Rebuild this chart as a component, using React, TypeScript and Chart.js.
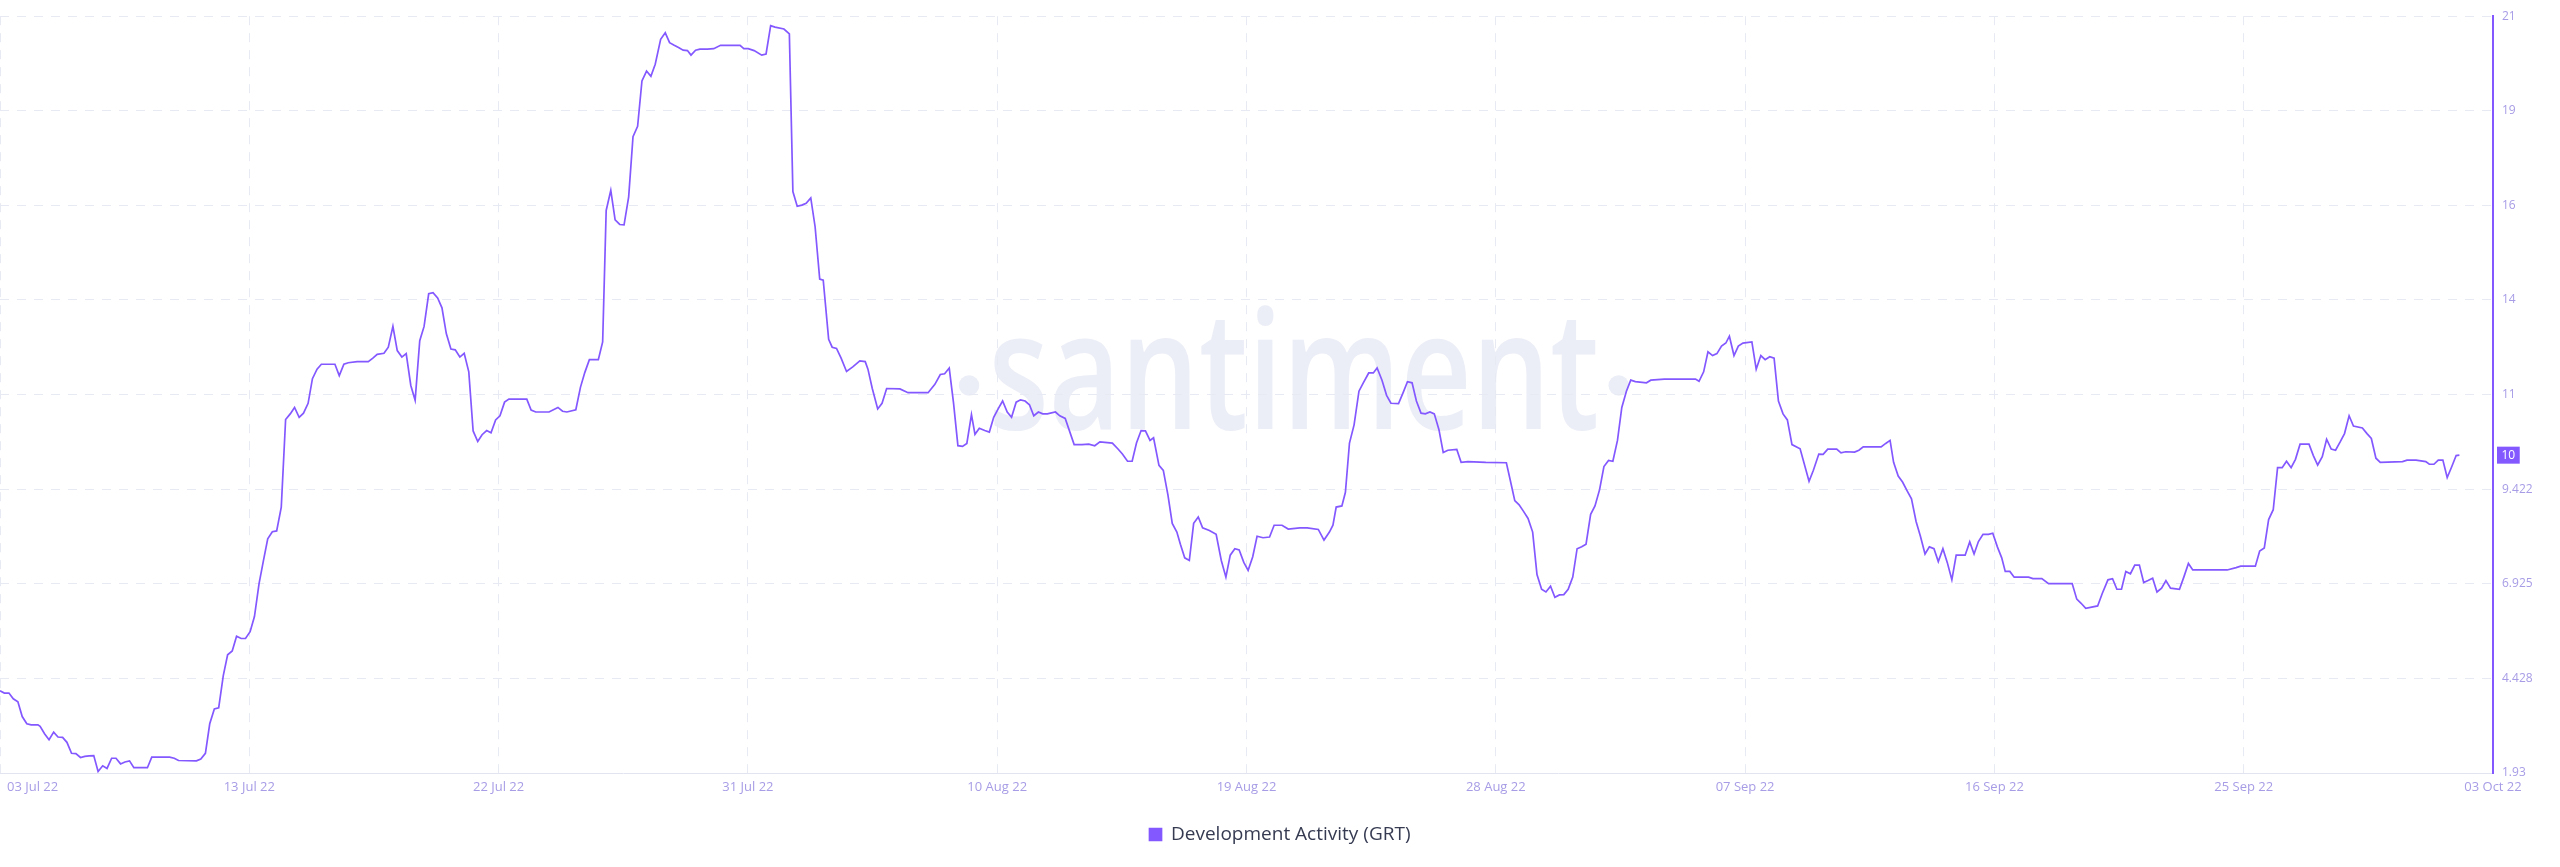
import React, { useEffect, useRef } from "react";
import { Chart, registerables } from "chart.js";

Chart.register(...registerables);

// ---------- data ----------
const seriesName = "Development Activity (GRT)";
const xTickLabels = [
  "03 Jul 22", "13 Jul 22", "22 Jul 22", "31 Jul 22", "10 Aug 22", "19 Aug 22",
  "28 Aug 22", "07 Sep 22", "16 Sep 22", "25 Sep 22", "03 Oct 22",
];
// days since 03 Jul 22 covered by the time axis (03 Jul 22 -> 03 Oct 22)
const xRangeDays = [0, 92];
const yTickLabels = ["1.93", "4.428", "6.925", "9.422", "11", "14", "16", "19", "21"];
const yRange = [1.93, 21.908];
const lastValueLabel = "10";
const watermarkText = "santiment";

// time of each observation, in days since 03 Jul 22 00:00
const dayOffsets = [
  0.0, 0.16, 0.33, 0.49, 0.66, 0.82, 0.99, 1.15, 1.4, 1.48,
  1.65, 1.81, 1.98, 2.14, 2.31, 2.47, 2.64, 2.8, 2.97, 3.13,
  3.29, 3.46, 3.62, 3.79, 3.95, 4.12, 4.28, 4.45, 4.61, 4.78,
  4.94, 5.44, 5.6, 6.26, 6.43, 6.59, 7.25, 7.41, 7.58, 7.74,
  7.91, 8.07, 8.24, 8.4, 8.57, 8.73, 8.9, 9.06, 9.23, 9.39,
  9.56, 9.72, 9.88, 10.05, 10.21, 10.38, 10.54, 10.71, 10.87, 11.04,
  11.2, 11.37, 11.53, 11.7, 11.86, 12.36, 12.52, 12.69, 12.85, 13.18,
  13.59, 13.76, 13.92, 14.17, 14.33, 14.5, 14.66, 14.83, 14.99, 15.16,
  15.32, 15.49, 15.65, 15.82, 15.98, 16.15, 16.31, 16.47, 16.64, 16.8,
  16.97, 17.13, 17.3, 17.46, 17.63, 17.79, 17.96, 18.12, 18.29, 18.45,
  18.62, 18.78, 19.44, 19.6, 19.77, 20.26, 20.59, 20.76, 20.92, 21.25,
  21.42, 21.58, 21.75, 22.08, 22.24, 22.37, 22.54, 22.7, 22.87, 23.03,
  23.2, 23.36, 23.53, 23.69, 23.86, 24.02, 24.18, 24.38, 24.55, 24.71,
  24.88, 25.04, 25.21, 25.37, 25.5, 25.67, 25.83,
  26.1, 26.34, 26.59, 26.92, 27.31, 27.45, 27.61, 27.83, 28.11, 28.27,
  28.44, 28.6, 28.93, 29.13, 29.26, 29.42, 29.59, 29.75, 29.92, 30.08,
  30.25, 30.38, 30.58, 30.71, 30.87, 31.04, 31.24, 31.47, 31.73, 31.93,
  32.03, 32.19, 32.39, 32.55, 32.72, 33.21, 33.51, 34.25, 34.5, 34.7,
  34.86, 35.03, 35.19, 35.35, 35.52, 35.68, 35.85, 35.98, 36.14, 36.34,
  36.51, 36.67, 36.84, 37.0, 37.17, 37.33, 37.5, 37.66, 37.83, 37.99,
  38.15, 38.32, 38.48, 38.65, 38.95, 39.11, 39.31, 39.64, 39.93, 40.18,
  40.4, 40.59, 41.05, 41.25, 41.42, 41.61, 41.78, 41.94, 42.11, 42.27,
  42.44, 42.57, 42.77, 42.93, 43.1, 43.26, 43.43, 43.56, 43.72, 43.89,
  44.05, 44.22, 44.38, 44.63, 44.88, 45.07, 45.24, 45.4, 45.57, 45.73,
  45.9, 46.06, 46.23, 46.39, 46.61, 46.85, 47.02, 47.31, 47.54, 47.97,
  48.24, 48.65, 48.86, 49.06, 49.19, 49.31, 49.52, 49.65, 49.8, 49.97,
  50.15, 50.31, 50.51, 50.68, 50.82, 51.0, 51.17, 51.33, 51.61, 51.78,
  51.94, 52.11, 52.27, 52.44, 52.6, 52.77, 52.93, 53.1, 53.26, 53.43,
  53.76, 53.92, 54.17, 54.83, 55.59, 55.73, 55.9, 56.06, 56.23, 56.39,
  56.56, 56.72, 56.89, 57.05, 57.22, 57.38, 57.55, 57.71, 57.87, 58.04,
  58.2, 58.37, 58.53, 58.7, 58.86, 59.03, 59.19, 59.36, 59.52, 59.69,
  59.85, 60.02, 60.18, 60.35, 60.76, 60.92, 61.42, 62.57, 62.7, 62.87,
  63.03, 63.2, 63.36, 63.53, 63.69, 63.82, 63.99, 64.15, 64.32, 64.65,
  64.81, 64.98, 65.14, 65.31, 65.47, 65.63, 65.8, 65.96, 66.13, 66.43,
  66.76, 66.92, 67.12, 67.28, 67.45, 67.78, 67.94, 68.11, 68.44,
  68.6, 68.76, 69.42, 69.59, 69.75, 69.88, 70.05, 70.21, 70.38, 70.54,
  70.71, 70.87, 71.04, 71.2, 71.37, 71.53, 71.7, 71.86, 72.03, 72.19,
  72.52, 72.69, 72.85, 73.01, 73.18, 73.38, 73.54, 73.71, 73.87, 74.0,
  74.17, 74.33, 74.86, 75.02, 75.35, 75.6, 76.47, 76.64, 76.8, 76.97,
  77.41, 77.58, 77.79, 77.96, 78.12, 78.29, 78.45, 78.62, 78.78, 78.95,
  79.11, 79.27, 79.44, 79.6, 79.77, 79.93, 80.1, 80.43, 80.59, 80.76,
  80.92, 82.19, 82.52, 82.69, 83.23, 83.39, 83.56, 83.72, 83.89, 84.05,
  84.22, 84.38, 84.55, 84.71, 84.88, 85.21, 85.37, 85.53, 85.7, 85.86,
  86.03, 86.19, 86.36, 86.52, 86.69, 86.85, 87.18, 87.35, 87.51, 87.68,
  87.84, 88.66, 88.83, 89.16, 89.52, 89.65, 89.82, 89.98, 90.15, 90.31,
  90.48, 90.64, 90.76,
];

const devActivity = [
  4.1, 4.04, 4.04, 3.89, 3.81, 3.42, 3.23, 3.2, 3.2, 3.16,
  2.96, 2.81, 3.01, 2.88, 2.87, 2.74, 2.45, 2.44, 2.34, 2.37,
  2.38, 2.39, 1.97, 2.12, 2.05, 2.32, 2.32, 2.17, 2.22, 2.25,
  2.07, 2.07, 2.35, 2.35, 2.32, 2.26, 2.25, 2.3, 2.45, 3.23,
  3.62, 3.65, 4.5, 5.05, 5.15, 5.54, 5.48, 5.48, 5.66, 6.06,
  6.93, 7.53, 8.11, 8.3, 8.32, 8.95, 11.26, 11.41, 11.58, 11.32,
  11.43, 11.69, 12.34, 12.59, 12.72, 12.72, 12.42, 12.72, 12.76, 12.79,
  12.79, 12.88, 12.98, 13.01, 13.17, 13.72, 13.08, 12.91, 13.0, 12.16,
  11.77, 13.34, 13.72, 14.58, 14.61, 14.47, 14.21, 13.53, 13.12, 13.1,
  12.91, 13.01, 12.52, 10.96, 10.68, 10.86, 10.97, 10.91, 11.25, 11.36,
  11.72, 11.8, 11.8, 11.51, 11.46, 11.46, 11.58, 11.48, 11.46, 11.52,
  12.11, 12.5, 12.84, 12.84, 13.31, 16.78, 17.31, 16.53, 16.41, 16.4,
  17.14, 18.73, 19.0, 20.2, 20.46, 20.32, 20.64, 21.3, 21.47, 21.21,
  21.14, 21.08, 21.01, 21.0, 20.88, 21.01, 21.04,
  21.04, 21.05, 21.14, 21.14, 21.14, 21.05, 21.05, 21.0, 20.88, 20.91,
  21.66, 21.62, 21.57, 21.44, 17.28, 16.89, 16.92, 16.97, 17.11, 16.35,
  14.97, 14.94, 13.38, 13.17, 13.14, 12.88, 12.53, 12.65, 12.81, 12.79,
  12.59, 12.08, 11.54, 11.69, 12.08, 12.07, 11.97, 11.97, 12.19, 12.45,
  12.47, 12.62, 11.69, 10.57, 10.55, 10.63, 11.39, 10.87, 11.03, 10.97,
  10.93, 11.32, 11.55, 11.75, 11.46, 11.32, 11.72, 11.78, 11.75, 11.65,
  11.36, 11.46, 11.41, 11.41, 11.46, 11.36, 11.29, 10.6, 10.6, 10.61,
  10.57, 10.67, 10.64, 10.49, 10.35, 10.16, 10.16, 10.64, 10.97, 10.96,
  10.71, 10.78, 10.05, 9.92, 9.27, 8.52, 8.29, 7.97, 7.61, 7.54,
  8.52, 8.69, 8.4, 8.33, 8.23, 7.54, 7.1, 7.68, 7.85, 7.82,
  7.49, 7.28, 7.64, 8.18, 8.14, 8.16, 8.47, 8.47, 8.37, 8.4,
  8.4, 8.36, 8.08, 8.29, 8.47, 8.95, 8.98, 9.34, 10.64, 11.12,
  12.01, 12.23, 12.49, 12.49, 12.62, 12.3, 11.9, 11.69, 11.68, 11.97,
  12.26, 12.23, 11.75, 11.43, 11.41, 11.46, 11.41, 11.0, 10.39, 10.45,
  10.47, 10.13, 10.15, 10.13, 10.12, 9.67, 9.12, 9.01, 8.83, 8.65,
  8.29, 7.17, 6.78, 6.71, 6.86, 6.57, 6.63, 6.64, 6.78, 7.1,
  7.85, 7.9, 7.97, 8.76, 8.98, 9.41, 10.02, 10.18, 10.16, 10.71,
  11.58, 12.01, 12.3, 12.26, 12.23, 12.3, 12.33, 12.33, 12.27, 12.52,
  13.05, 12.95, 13.0, 13.2, 13.28, 13.46, 12.95, 13.2, 13.28, 13.31,
  12.59, 12.95, 12.84, 12.92, 12.88, 11.75, 11.41, 11.25, 10.6, 10.49,
  9.63, 9.92, 10.35, 10.34, 10.48, 10.48, 10.38, 10.41, 10.4,
  10.45, 10.54, 10.54, 10.63, 10.71, 10.13, 9.77, 9.61, 9.38, 9.17,
  8.57, 8.18, 7.71, 7.9, 7.85, 7.51, 7.85, 7.49, 7.03, 7.68,
  7.68, 8.03, 7.71, 8.04, 8.23, 8.23, 8.26, 7.9, 7.61, 7.25,
  7.25, 7.1, 7.1, 7.06, 7.06, 6.93, 6.93, 6.52, 6.41, 6.28,
  6.34, 6.67, 7.03, 7.06, 6.78, 6.78, 7.25, 7.19, 7.42, 7.42,
  6.96, 7.01, 7.07, 6.71, 6.81, 7.01, 6.81, 6.78, 7.1, 7.46,
  7.29, 7.29, 7.35, 7.39, 7.39, 7.79, 7.87, 8.62, 8.88, 9.99,
  9.99, 10.16, 9.99, 10.21, 10.61, 10.61, 10.31, 10.06, 10.28, 10.74,
  10.48, 10.45, 10.67, 10.89, 11.36, 11.09, 11.04, 10.89, 10.76, 10.24,
  10.13, 10.15, 10.19, 10.19, 10.15, 10.08, 10.08, 10.19, 10.19, 9.73,
  10.02, 10.31, 10.32,
];

// ---------- styles ----------
const LINE_COLOR = "#8358ff";
const TICK_COLOR = "#a79de6";
const GRID_COLOR = "#e7e9f3";
const AXIS_BASE_COLOR = "#e2e4ef";
const LEGEND_TEXT = "#363b52";
const WATERMARK_COLOR = "#eceef7";
const FONT = "'Open Sans', sans-serif";

const watermarkPlugin = {
  id: "watermark",
  beforeDraw(chart: any) {
    const { ctx, chartArea: a } = chart;
    const w = a.right - a.left;
    const h = a.bottom - a.top;
    const cx = a.left + w * 0.519;
    const base = a.top + h * 0.546;
    const xh = h * 0.116;
    const fontSize = xh / 0.535;
    const target = w * 0.245;
    ctx.save();
    ctx.font = `600 ${fontSize}px ${FONT}`;
    ctx.fillStyle = WATERMARK_COLOR;
    const tw = ctx.measureText(watermarkText).width;
    ctx.textAlign = "center";
    ctx.textBaseline = "alphabetic";
    ctx.translate(cx, base);
    ctx.scale(target / tw, 1);
    ctx.fillText(watermarkText, 0, 0);
    ctx.restore();
    const r = h * 0.0135;
    ctx.save();
    ctx.fillStyle = WATERMARK_COLOR;
    ctx.beginPath();
    ctx.arc(cx - target / 2 - r * 1.9, base - xh / 2, r, 0, Math.PI * 2);
    ctx.fill();
    ctx.beginPath();
    ctx.arc(cx + target / 2 + r * 1.9, base - xh / 2, r, 0, Math.PI * 2);
    ctx.fill();
    ctx.restore();
  },
};

const overlayPlugin = {
  id: "overlayLabels",
  afterDraw(chart: any) {
    const { ctx, chartArea: a, scales } = chart;
    const xs = scales.x;
    const ys = scales.y;
    // x tick labels
    ctx.save();
    ctx.font = `13px ${FONT}`;
    ctx.fillStyle = TICK_COLOR;
    ctx.textBaseline = "middle";
    ctx.textAlign = "center";
    const n = xTickLabels.length;
    xTickLabels.forEach((lab, i) => {
      const v = xRangeDays[0] + ((xRangeDays[1] - xRangeDays[0]) * i) / (n - 1);
      const tw = ctx.measureText(lab).width;
      const px = Math.max(xs.getPixelForValue(v), a.left + 7 + tw / 2);
      ctx.fillText(lab, px, a.bottom + 14);
    });
    ctx.restore();
    // last value marker
    const last = devActivity[devActivity.length - 1];
    const py = ys.getPixelForValue(last);
    ctx.save();
    ctx.font = `12px ${FONT}`;
    const bw = ctx.measureText(lastValueLabel).width + 9;
    const bh = 17;
    const bx = a.right + 4;
    ctx.fillStyle = LINE_COLOR;
    ctx.fillRect(bx, py - bh / 2, bw, bh);
    ctx.fillStyle = "#ffffff";
    ctx.textAlign = "center";
    ctx.textBaseline = "middle";
    ctx.fillText(lastValueLabel, bx + bw / 2, py + 0.5);
    ctx.restore();
  },
};

export default function App() {
  const canvasRef = useRef<HTMLCanvasElement | null>(null);

  useEffect(() => {
    document.body.style.margin = "0";
    const canvas = canvasRef.current;
    if (!canvas) return;
    const points = dayOffsets.map((d, i) => ({ x: d, y: devActivity[i] }));
    const chart = new Chart(canvas, {
      type: "line",
      data: {
        datasets: [
          {
            label: seriesName,
            data: points,
            borderColor: LINE_COLOR,
            backgroundColor: LINE_COLOR,
            borderWidth: 1.7,
            pointRadius: 0,
            tension: 0,
            fill: false,
          },
        ],
      },
      options: {
        responsive: false,
        animation: false,
        events: [],
        layout: { padding: { top: 9, left: 0, right: 0, bottom: 13 } },
        scales: {
          x: {
            type: "linear",
            min: xRangeDays[0],
            max: xRangeDays[1],
            afterBuildTicks: (scale: any) => {
              const n = xTickLabels.length;
              scale.ticks = xTickLabels.map((_, i) => ({
                value: xRangeDays[0] + ((xRangeDays[1] - xRangeDays[0]) * i) / (n - 1),
              }));
            },
            afterFit: (scale: any) => {
              scale.height = 42;
            },
            ticks: { display: false },
            grid: { display: true, color: GRID_COLOR, lineWidth: 1, drawTicks: false },
            border: { display: true, color: AXIS_BASE_COLOR, width: 1, dash: [9, 8] },
          },
          y: {
            type: "linear",
            position: "right",
            min: yRange[0],
            max: yRange[1],
            afterBuildTicks: (scale: any) => {
              const n = yTickLabels.length;
              scale.ticks = yTickLabels.map((_, i) => ({
                value: yRange[0] + ((yRange[1] - yRange[0]) * i) / (n - 1),
              }));
            },
            afterFit: (scale: any) => {
              scale.width = 67;
            },
            ticks: {
              color: TICK_COLOR,
              font: { size: 12, family: FONT },
              padding: 9,
              callback: (_v: any, i: number) => yTickLabels[i],
            },
            grid: { display: true, color: GRID_COLOR, lineWidth: 1, drawTicks: false },
            border: { display: true, color: LINE_COLOR, width: 2, dash: [9, 8] },
          },
        },
        plugins: {
          legend: {
            display: true,
            position: "bottom",
            labels: {
              boxWidth: 12,
              boxHeight: 12,
              padding: 10,
              color: LEGEND_TEXT,
              font: { size: 19, family: FONT },
            },
          },
          tooltip: { enabled: false },
        },
      },
      plugins: [watermarkPlugin, overlayPlugin],
    });
    return () => chart.destroy();
  }, []);

  return (
    <div style={{ width: 2560, height: 867 }}>
      <canvas ref={canvasRef} width={2560} height={867} style={{ display: "block" }} />
    </div>
  );
}
